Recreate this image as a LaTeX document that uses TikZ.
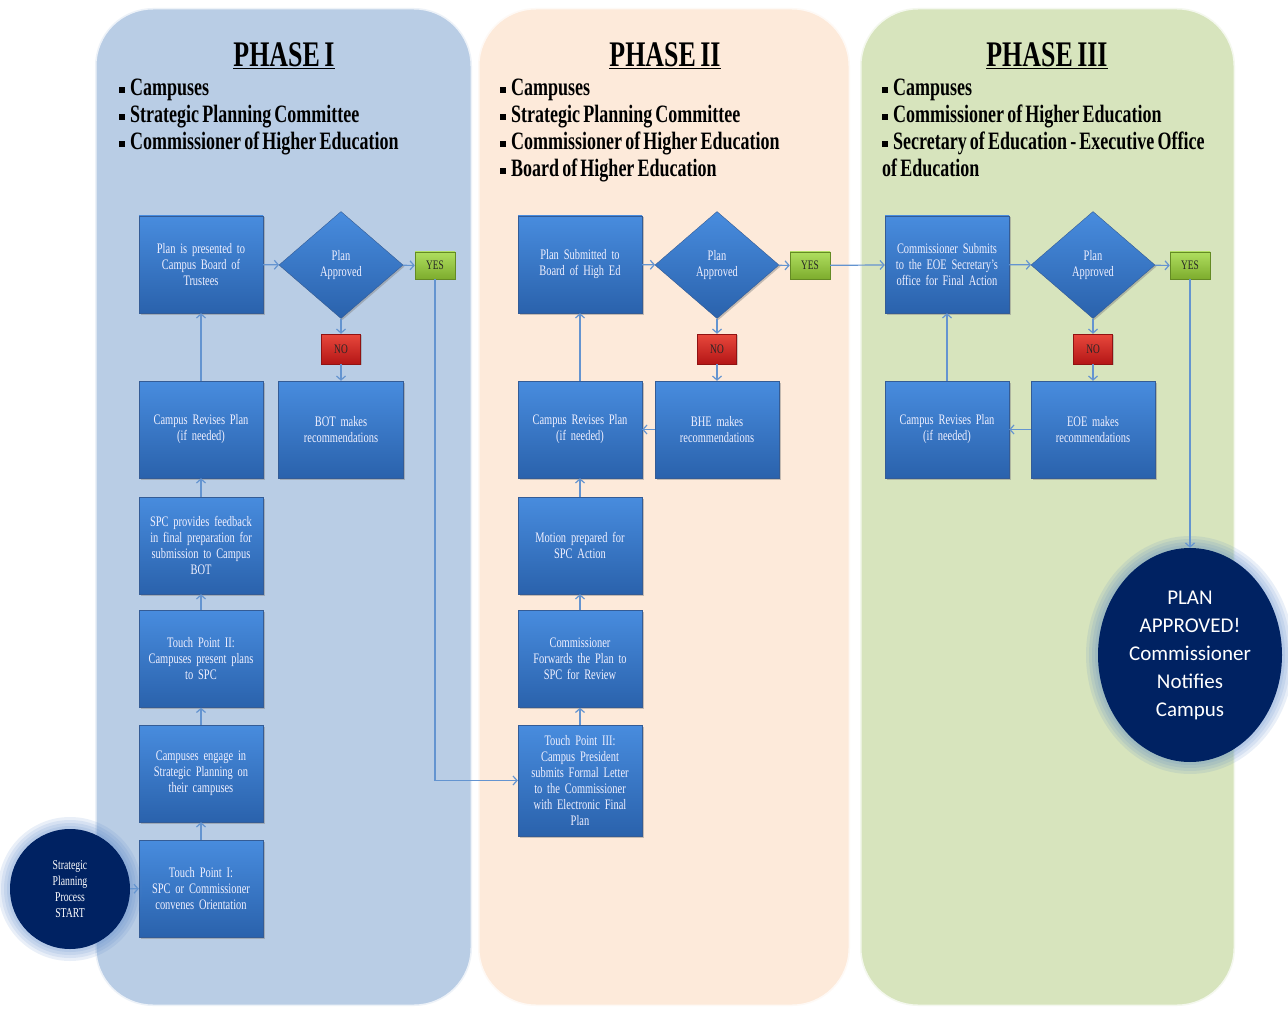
\documentclass[tikz,border=0pt]{standalone}
\usepackage{fontspec}
\setmainfont{Liberation Serif}[FakeStretch=0.72,WordSpace=0.7]
\newfontfamily\CircFont{Carlito}
\usepackage{xcolor}
\definecolor{ColPhA}{RGB}{185,205,229}
\definecolor{ColPhB}{RGB}{253,234,218}
\definecolor{ColPhC}{RGB}{215,228,189}
\definecolor{ColTop}{RGB}{72,140,222}
\definecolor{ColBot}{RGB}{42,98,172}
\definecolor{ColLine}{RGB}{52,92,150}
\definecolor{ColYesT}{RGB}{175,222,95}
\definecolor{ColYesB}{RGB}{125,172,45}
\definecolor{ColNoT}{RGB}{232,72,60}
\definecolor{ColNoB}{RGB}{180,22,22}
\definecolor{ColNavy}{RGB}{0,34,98}
\definecolor{ColGlow}{RGB}{79,129,199}
\definecolor{ColArrow}{RGB}{100,148,208}
\usepackage{tikz}
\usetikzlibrary{shapes.geometric}
\usetikzlibrary{arrows.meta}
\usetikzlibrary{shadows}
\tikzstyle{Panel}=[rounded corners=58pt,draw=white,draw opacity=.75,
line width=3pt]
\tikzstyle{Box}=[rectangle,draw=ColLine,top color=ColTop,bottom color=ColBot,
minimum width=124pt,minimum height=97pt,text width=118pt,align=center,
inner sep=0pt,text=white!94!blue,font=\fontsize{14.5}{16}\selectfont,
drop shadow={opacity=.45,shadow xshift=1.5pt,shadow yshift=-1.5pt}]
\tikzstyle{Decision}=[diamond,draw=ColLine,top color=ColTop,
bottom color=ColBot,minimum width=124pt,minimum height=107pt,align=center,
inner sep=0pt,text=white!94!blue,font=\fontsize{14.5}{16}\selectfont,
drop shadow={opacity=.45,shadow xshift=1.5pt,shadow yshift=-1.5pt}]
\tikzstyle{Yes}=[rectangle,draw=ColYesB!80!black,top color=ColYesT,
bottom color=ColYesB,minimum width=40pt,minimum height=27pt,inner sep=0pt,
text=black!85,font=\fontsize{13}{14}\selectfont,
drop shadow={opacity=.4,shadow xshift=1pt,shadow yshift=-1pt}]
\tikzstyle{No}=[Yes,draw=ColNoB!80!black,top color=ColNoT,
bottom color=ColNoB,minimum width=39pt,minimum height=30pt]
\tikzstyle{Edge}=[draw=ColArrow,line width=1.2pt,
-{Straight Barb[length=4pt,width=9pt]}]
\tikzstyle{Head}=[font=\bfseries\fontsize{36}{40}\selectfont,inner sep=0pt]
\tikzstyle{List}=[font=\bfseries\fontsize{25}{27}\selectfont,align=left,
anchor=north west,inner sep=0pt]
\tikzstyle{Glow}=[fill=ColGlow,opacity=.12]
\newcommand{\Bul}{\rule[.28ex]{.22em}{.22em}\hspace{.22em}}

\begin{document}
\begin{tikzpicture}[x=1pt,y=-1pt]
    \useasboundingbox[fill=white](0,0)rectangle(1288,1011);
    % phases
    \path[Panel,fill=ColPhA](95,8)rectangle(472,1006);
    \path[Panel,fill=ColPhB](478,8)rectangle(850,1006);
    \path[Panel,fill=ColPhC](860,8)rectangle(1235,1006);
    \node[Head](hA)at(284,56){\underline{PHASE I}};
    \node[Head](hB)at(665,56){\underline{PHASE II}};
    \node[Head](hC)at(1047,56){\underline{PHASE III}};
    \node[List](lA)at(119,79){\Bul Campuses\\\Bul Strategic Planning Committee\\
        \Bul Commissioner of Higher Education};
    \node[List](lB)at(500,79){\Bul Campuses\\\Bul Strategic Planning Committee\\
        \Bul Commissioner of Higher Education\\\Bul Board of Higher Education};
    \node[List](lC)at(882,79){\Bul Campuses\\\Bul Commissioner of Higher Education\\
        \Bul Secretary of Education - Executive Office\\of Education};
    % phase I
    \node[Box](A1)at(201,264.5){Plan is presented to\\Campus Board of\\Trustees};
    \node[Box](A2)at(201,429.5){Campus Revises Plan\\(if needed)};
    \node[Box](A3)at(201,545.5)
        {SPC provides feedback\\in final preparation for\\submission to Campus\\BOT};
    \node[Box](A4)at(201,659){Touch Point II:\\Campuses present plans\\to SPC};
    \node[Box](A5)at(201,773.5)
        {Campuses engage in\\Strategic Planning on\\their campuses};
    \node[Box](A6)at(201,888.5)
        {Touch Point I:\\SPC or Commissioner\\convenes Orientation};
    \node[Decision](Ad)at(341,265){Plan\\Approved};
    \node[Yes](Ay)at(435,265.5){YES};
    \node[No](An)at(341,349){NO};
    \node[Box,minimum width=125pt](Ab)at(341,429.5){BOT makes\\recommendations};
    \foreach \r in {72,69,66,63}
        \fill[Glow](70,889)circle[radius=\r pt];
    \node[circle,fill=ColNavy,minimum size=120pt,inner sep=0pt,align=center,
        text=white,font=\fontsize{13.5}{16}\selectfont](St)at(70,889)
        {Strategic\\Planning\\Process\\START};
    \draw[Edge](St)--(A6);
    \draw[Edge](A6)--(A5);
    \draw[Edge](A5)--(A4);
    \draw[Edge](A4)--(A3);
    \draw[Edge](A3)--(A2);
    \draw[Edge](A2)--(A1);
    \draw[Edge](A1)--(Ad);
    \draw[Edge](Ad)--(Ay);
    \draw[Edge](Ad)--(An);
    \draw[Edge](An)--(Ab);
    % phase II
    \node[Box](B1)at(580,264.5){Plan Submitted to\\Board of High Ed};
    \node[Box](B2)at(580,429.5){Campus Revises Plan\\(if needed)};
    \node[Box](B3)at(580,545.5){Motion prepared for\\SPC Action};
    \node[Box](B4)at(580,659){Commissioner\\Forwards the Plan to\\SPC for Review};
    \node[Box,minimum height=111pt](B5)at(580,780.5){Touch Point III:\\
        Campus President\\submits Formal Letter\\to the Commissioner\\
        with Electronic Final\\Plan};
    \node[Decision](Bd)at(717,265){Plan\\Approved};
    \node[Yes](By)at(810,265.5){YES};
    \node[No](Bn)at(717,349){NO};
    \node[Box](Bb)at(717,429.5){BHE makes\\recommendations};
    \draw[Edge](Ay)|-(B5);
    \draw[Edge](B5)--(B4);
    \draw[Edge](B4)--(B3);
    \draw[Edge](B3)--(B2);
    \draw[Edge](B2)--(B1);
    \draw[Edge](B1)--(Bd);
    \draw[Edge](Bd)--(By);
    \draw[Edge](Bd)--(Bn);
    \draw[Edge](Bn)--(Bb);
    \draw[Edge](Bb)--(B2);
    % phase III
    \node[Box](C1)at(947,264.5)
        {Commissioner Submits\\to the EOE Secretary's\\office for Final Action};
    \node[Box](C2)at(947,429.5){Campus Revises Plan\\(if needed)};
    \node[Decision](Cd)at(1093,265){Plan\\Approved};
    \node[Yes](Cy)at(1190,265.5){YES};
    \node[No](Cn)at(1093,349){NO};
    \node[Box](Cb)at(1093,429.5){EOE makes\\recommendations};
    \foreach \r in {12,9,6,3}
        \fill[Glow](1190,655)ellipse[x radius=92pt+\r pt,y radius=107pt+\r pt];
    \node[ellipse,fill=ColNavy,minimum width=184pt,minimum height=214pt,
        inner sep=0pt,align=center,text=white,
        font=\CircFont\fontsize{21}{28}\selectfont](End)at(1190,655)
        {PLAN\\APPROVED!\\Commissioner\\Notifies\\Campus};
    \draw[Edge](By)--(C1);
    \draw[Edge](C1)--(Cd);
    \draw[Edge](Cd)--(Cy);
    \draw[Edge](Cd)--(Cn);
    \draw[Edge](Cn)--(Cb);
    \draw[Edge](Cb)--(C2);
    \draw[Edge](C2)--(C1);
    \draw[Edge](Cy)--(End);
\end{tikzpicture}
\end{document}
